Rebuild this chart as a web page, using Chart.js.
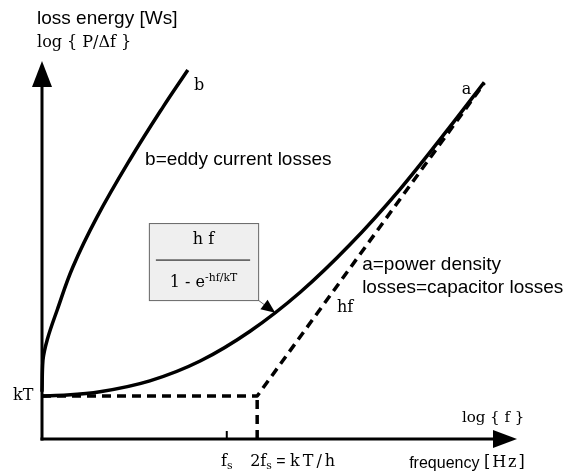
<!DOCTYPE html>
<html>
<head>
<meta charset="utf-8">
<script src="https://cdn.jsdelivr.net/npm/chart.js@4/dist/chart.umd.min.js"></script>
<style>
html, body { margin: 0; padding: 0; background: #fff; }
canvas { display: block; }
</style>
</head>
<body>
<canvas id="lossChart" width="566" height="472"></canvas>
<script>
// curve a: power density losses = capacitor losses (log f, log P/df)
const aLogF = [0, 5.3, 12.2, 22.7, 33.3, 43.8, 54.3, 64.8, 75.4, 85.9, 93.1];
const aLogP = [9.1, 9.3, 10.0, 12.3, 16.5, 22.8, 31.0, 41.1, 52.9, 66.1, 75.5];

// curve b: eddy current losses
const bLogF = [0, 0.2, 1.1, 3.2, 6.5, 11.6, 18.5, 25.5, 30.7];
const bLogP = [10.0, 16.7, 21.0, 27.3, 36.4, 47.0, 59.1, 70.3, 78.1];

// asymptotes: kT floor and hf line
const kT = 9.1;
const hfLogF = [45.3, 93.1];
const hfLogP = [9.1, 75.3];

// x ticks
const tickValues = [38.9, 45.3];
const tickLabels = [
    [{ t: 'f' }, { t: 's', sub: true }],
    [{ t: '2f' }, { t: 's', sub: true }, { t: ' = ', family: 'sans' }, { t: 'kT/h', ls: 3 }]
];

const sans = '"Liberation Sans", Arial, sans-serif';
const serif = '"DejaVu Serif", "Liberation Serif", serif';

function pts(xs, ys) {
    return xs.map((x, i) => ({ x: x, y: ys[i] }));
}

function famOf(f, dflt) {
    if (f === 'sans') return sans;
    if (f === 'serif') return serif;
    return f || dflt;
}

// width of one run, with optional letter spacing
function runWidth(ctx, s) {
    if (!s.ls) return ctx.measureText(s.t).width;
    let w = 0;
    for (const ch of s.t) w += ctx.measureText(ch).width + s.ls;
    return w - s.ls;
}

// draws text made of runs, with sub/superscripts
function drawRich(ctx, x, y, segs, size, family, align) {
    const fontOf = s => {
        const sz = (s.sub || s.sup) ? size * 0.68 : size;
        return sz + 'px ' + famOf(s.family, family);
    };
    let total = 0;
    segs.forEach(s => {
        ctx.font = fontOf(s);
        total += runWidth(ctx, s);
    });
    let cx = x;
    if (align === 'center') cx = x - total / 2;
    if (align === 'right') cx = x - total;
    ctx.textAlign = 'left';
    ctx.textBaseline = 'middle';
    ctx.fillStyle = '#000';
    segs.forEach(s => {
        ctx.font = fontOf(s);
        let dy = 0;
        if (s.sub) dy = size * 0.28;
        if (s.sup) dy = -size * 0.3;
        if (s.ls) {
            for (const ch of s.t) {
                ctx.fillText(ch, cx, y + dy);
                cx += ctx.measureText(ch).width + s.ls;
            }
            cx -= s.ls;
        } else {
            ctx.fillText(s.t, cx, y + dy);
            cx += ctx.measureText(s.t).width;
        }
    });
}

const labels = [
    { x: -1.05, y: 88.9, segs: [{ t: 'loss energy [Ws]' }], size: 19, family: sans },
    { x: -1.05, y: 83.8, segs: [{ t: 'log { P/\u0394f }' }], size: 16, family: serif },
    { x: -1.8, y: 9.1, segs: [{ t: 'kT' }], size: 16, family: serif, align: 'right' },
    { x: 32.0, y: 74.7, segs: [{ t: 'b' }], size: 16, family: serif },
    { x: 90.4, y: 73.9, segs: [{ t: 'a' }], size: 16, family: serif, align: 'right' },
    { x: 21.7, y: 59.0, segs: [{ t: 'b=eddy current losses' }], size: 19, family: sans },
    { x: 67.4, y: 36.8, segs: [{ t: 'a=power density' }], size: 19, family: sans },
    { x: 67.4, y: 32.0, segs: [{ t: 'losses=capacitor losses' }], size: 19, family: sans },
    { x: 62.1, y: 27.8, segs: [{ t: 'hf' }], size: 16, family: serif },
    { x: 88.4, y: 4.4, segs: [{ t: 'log { f }' }], size: 15, family: serif },
    { x: 77.3, y: -5.1, segs: [{ t: 'frequency ', family: 'sans' }, { t: '[Hz]', ls: 2 }], size: 16, family: serif }
];

const box = { x0: 22.5, x1: 45.5, y0: 29.4, y1: 45.7, tipX: 49.1, tipY: 26.7 };

const diagram = {
    id: 'diagram',
    beforeDatasetsDraw(chart) {
        const ctx = chart.ctx;
        const a = chart.chartArea;
        const xs = chart.scales.x;
        ctx.save();
        ctx.strokeStyle = '#000';
        ctx.fillStyle = '#000';
        ctx.lineWidth = 3;
        // y axis
        ctx.beginPath();
        ctx.moveTo(a.left, a.bottom + 1.5);
        ctx.lineTo(a.left, a.top + 20);
        ctx.stroke();
        ctx.beginPath();
        ctx.moveTo(a.left, a.top);
        ctx.lineTo(a.left - 10, a.top + 26);
        ctx.lineTo(a.left + 10, a.top + 26);
        ctx.closePath();
        ctx.fill();
        // x axis
        ctx.beginPath();
        ctx.moveTo(a.left - 1.5, a.bottom);
        ctx.lineTo(a.right - 20, a.bottom);
        ctx.stroke();
        ctx.beginPath();
        ctx.moveTo(a.right, a.bottom);
        ctx.lineTo(a.right - 24, a.bottom - 9);
        ctx.lineTo(a.right - 24, a.bottom + 9);
        ctx.closePath();
        ctx.fill();
        // f_s tick
        ctx.lineWidth = 2;
        ctx.beginPath();
        ctx.moveTo(xs.getPixelForValue(tickValues[0]), a.bottom);
        ctx.lineTo(xs.getPixelForValue(tickValues[0]), a.bottom - 8);
        ctx.stroke();
        // tick labels
        drawRich(ctx, xs.getPixelForValue(tickValues[0]), a.bottom + 23, tickLabels[0], 16, serif, 'center');
        drawRich(ctx, xs.getPixelForValue(tickValues[1]) - 7, a.bottom + 23, tickLabels[1], 16, serif, 'left');
        ctx.restore();
    },
    afterDatasetsDraw(chart) {
        const ctx = chart.ctx;
        const xs = chart.scales.x, ys = chart.scales.y;
        ctx.save();
        labels.forEach(l => {
            drawRich(ctx, xs.getPixelForValue(l.x), ys.getPixelForValue(l.y), l.segs, l.size, l.family, l.align || 'left');
        });
        // formula box
        const bx0 = xs.getPixelForValue(box.x0), bx1 = xs.getPixelForValue(box.x1);
        const by0 = ys.getPixelForValue(box.y1), by1 = ys.getPixelForValue(box.y0);
        ctx.fillStyle = '#efefef';
        ctx.fillRect(bx0, by0, bx1 - bx0, by1 - by0);
        ctx.strokeStyle = '#666';
        ctx.lineWidth = 1;
        ctx.strokeRect(bx0 + 0.5, by0 + 0.5, bx1 - bx0, by1 - by0);
        const mid = (by0 + by1) / 2;
        ctx.strokeStyle = '#000';
        ctx.beginPath();
        ctx.moveTo(bx0 + 7, mid - 1.5);
        ctx.lineTo(bx1 - 8, mid - 1.5);
        ctx.stroke();
        const cx = (bx0 + bx1) / 2;
        drawRich(ctx, cx, mid - 22, [{ t: 'h f' }], 16, serif, 'center');
        drawRich(ctx, cx, mid + 21, [{ t: '1 - e' }, { t: '-hf/kT', sup: true }], 16, serif, 'center');
        // pointer arrow to curve a
        const tx = xs.getPixelForValue(box.tipX), ty = ys.getPixelForValue(box.tipY);
        const ang = Math.atan2(ty - by1, tx - bx1);
        ctx.strokeStyle = '#666';
        ctx.beginPath();
        ctx.moveTo(bx1, by1);
        ctx.lineTo(tx - 10 * Math.cos(ang), ty - 10 * Math.sin(ang));
        ctx.stroke();
        ctx.fillStyle = '#000';
        ctx.beginPath();
        ctx.moveTo(tx, ty);
        ctx.lineTo(tx - 14 * Math.cos(ang) + 6 * Math.sin(ang), ty - 14 * Math.sin(ang) - 6 * Math.cos(ang));
        ctx.lineTo(tx - 14 * Math.cos(ang) - 6 * Math.sin(ang), ty - 14 * Math.sin(ang) + 6 * Math.cos(ang));
        ctx.closePath();
        ctx.fill();
        ctx.restore();
    }
};

const dashed = { borderColor: '#000', borderWidth: 3.5, borderDash: [9, 6], pointRadius: 0, fill: false, clip: false, borderCapStyle: 'butt' };

new Chart(document.getElementById('lossChart'), {
    type: 'line',
    data: {
        datasets: [
            Object.assign({ label: 'kT + hf', data: [{ x: 0, y: kT }].concat(pts(hfLogF, hfLogP)), borderJoinStyle: 'round' }, dashed),
            Object.assign({ label: '2fs', data: [{ x: hfLogF[0], y: 0 }, { x: hfLogF[0], y: kT }] }, dashed),
            {
                label: 'a',
                data: pts(aLogF, aLogP),
                borderColor: '#000',
                borderWidth: 3.5,
                pointRadius: 0,
                cubicInterpolationMode: 'monotone',
                fill: false,
                clip: false
            },
            {
                label: 'b',
                data: pts(bLogF, bLogP),
                borderColor: '#000',
                borderWidth: 3.5,
                pointRadius: 0,
                tension: 0.4,
                fill: false,
                clip: false
            }
        ]
    },
    options: {
        responsive: false,
        animation: false,
        layout: { padding: { left: 42, right: 49, top: 61, bottom: 33 } },
        plugins: { legend: { display: false }, tooltip: { enabled: false } },
        scales: {
            x: { type: 'linear', min: 0, max: 100, display: false },
            y: { type: 'linear', min: 0, max: 80, display: false }
        }
    },
    plugins: [diagram]
});
</script>
</body>
</html>
